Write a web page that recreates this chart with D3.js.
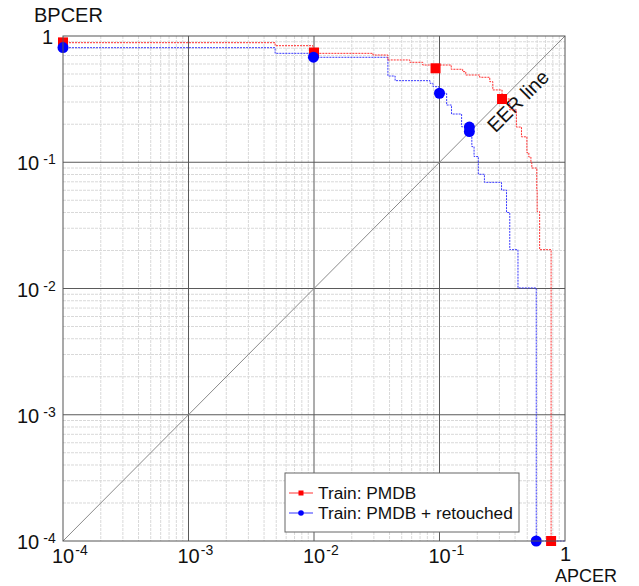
<!DOCTYPE html>
<html>
<head>
<meta charset="utf-8">
<script src="https://cdn.jsdelivr.net/npm/d3@7"></script>
<style>
  body { margin: 0; background: #fff; }
  text { font-family: "Liberation Sans", Arial, sans-serif; fill: #111; }
</style>
</head>
<body>
<div id="root"></div>
<script>
// DET curves (APCER, BPCER at each step)
const pmdbApcer  = [1e-4, 0.0049, 0.0098, 0.0295, 0.0388, 0.058, 0.0735, 0.124, 0.153, 0.162, 0.209, 0.2515, 0.266, 0.315, 0.363, 0.41, 0.45, 0.497, 0.515, 0.535, 0.544, 0.596, 0.60, 0.628, 0.775]
const pmdbBpcer  = [0.885, 0.838, 0.729, 0.707, 0.646, 0.619, 0.589, 0.545, 0.522, 0.491, 0.471, 0.435, 0.374, 0.317, 0.26, 0.19, 0.159, 0.119, 0.110, 0.099, 0.090, 0.060, 0.0406, 0.0203, 1e-4]
const retApcer   = [1e-4, 0.0049, 0.0098, 0.0388, 0.0443, 0.084, 0.0888, 0.099, 0.114, 0.1247, 0.150, 0.173, 0.181, 0.1885, 0.204, 0.228, 0.312, 0.342, 0.363, 0.422, 0.59, 1]
const retBpcer   = [0.808, 0.729, 0.678, 0.482, 0.443, 0.422, 0.397, 0.352, 0.284, 0.241, 0.191, 0.175, 0.133, 0.111, 0.0803, 0.0693, 0.0602, 0.040, 0.0203, 0.0101, 1e-4, 1e-4]

// marker positions
const pmdbMarkX = [1e-4, 0.01, 0.093, 0.315, 0.775]
const pmdbMarkY = [0.89, 0.74, 0.555, 0.317, 1e-4]
const retMarkX  = [1e-4, 0.0099, 0.1, 0.173, 0.173, 0.59]
const retMarkY  = [0.81, 0.68, 0.352, 0.19, 0.175, 1e-4]

const decades = [1e-4, 1e-3, 1e-2, 1e-1, 1]
const tickExp = ["-4", "-3", "-2", "-1", ""]
const legendNames = ["Train: PMDB", "Train: PMDB + retouched"]

const w = 639
const h = 586
const pL = 63, pR = 565, pT = 36, pB = 541

const x = d3.scaleLog().domain([1e-4, 1]).range([pL, pR])
const y = d3.scaleLog().domain([1e-4, 1]).range([pB, pT])

const svg = d3.select("#root").append("svg")
    .attr("width", w)
    .attr("height", h)

// minor grid
const minor = []
decades.slice(0, 4).forEach(d => {
    for (let k = 2; k <= 9; k++) minor.push(d * k)
})
svg.append("g").selectAll("line")
    .data(minor).enter().append("line")
    .attr("x1", d => x(d)).attr("x2", d => x(d))
    .attr("y1", pT).attr("y2", pB)
    .attr("stroke", "#d9d9d9").attr("stroke-dasharray", "3,1")
svg.append("g").selectAll("line")
    .data(minor).enter().append("line")
    .attr("y1", d => y(d)).attr("y2", d => y(d))
    .attr("x1", pL).attr("x2", pR)
    .attr("stroke", "#d9d9d9").attr("stroke-dasharray", "3,1")

// major grid
svg.append("g").selectAll("line")
    .data(decades.slice(1, 4)).enter().append("line")
    .attr("x1", d => x(d)).attr("x2", d => x(d))
    .attr("y1", pT).attr("y2", pB)
    .attr("stroke", "#5a5a5a")
svg.append("g").selectAll("line")
    .data(decades.slice(1, 4)).enter().append("line")
    .attr("y1", d => y(d)).attr("y2", d => y(d))
    .attr("x1", pL).attr("x2", pR)
    .attr("stroke", "#5a5a5a")

// EER line
svg.append("line")
    .attr("x1", x(1e-4)).attr("y1", y(1e-4))
    .attr("x2", x(1)).attr("y2", y(1))
    .attr("stroke", "#8a8a8a")

svg.append("text")
    .attr("transform", "translate(518, 101) rotate(-45)")
    .attr("text-anchor", "middle")
    .attr("dy", "0.35em")
    .style("font-size", "20px")
    .text("EER line")

// curves
const line = d3.line()
    .x(d => x(d[0]))
    .y(d => y(d[1]))
    .curve(d3.curveStepAfter)

svg.append("path")
    .datum(retApcer.map((v, i) => [v, retBpcer[i]]))
    .attr("d", line)
    .attr("fill", "none")
    .attr("stroke", "#3a3aff")
    .attr("stroke-dasharray", "2,1")

svg.append("path")
    .datum(pmdbApcer.map((v, i) => [v, pmdbBpcer[i]]))
    .attr("d", line)
    .attr("fill", "none")
    .attr("stroke", "#ff3030")
    .attr("stroke-dasharray", "2,1")

// markers
svg.append("g").selectAll("rect")
    .data(pmdbMarkX.map((v, i) => [v, pmdbMarkY[i]])).enter().append("rect")
    .attr("x", d => x(d[0]) - 5).attr("y", d => y(d[1]) - 5)
    .attr("width", 10).attr("height", 10)
    .attr("fill", "#ff0000")

svg.append("g").selectAll("circle")
    .data(retMarkX.map((v, i) => [v, retMarkY[i]])).enter().append("circle")
    .attr("cx", d => x(d[0])).attr("cy", d => y(d[1]))
    .attr("r", 5.5)
    .attr("fill", "#0000ff")

// frame
svg.append("rect")
    .attr("x", pL).attr("y", pT)
    .attr("width", pR - pL).attr("height", pB - pT)
    .attr("fill", "none").attr("stroke", "#555")

// tick labels
const xl = svg.append("g").selectAll("text")
    .data(decades).enter().append("text")
    .attr("x", (d, i) => tickExp[i] ? x(d) - 11 : x(d) - 5)
    .attr("y", (d, i) => tickExp[i] ? 563 : 561)
    .style("font-size", "20px")
xl.append("tspan").text((d, i) => tickExp[i] ? "10" : "1")
xl.append("tspan")
    .attr("dx", 1).attr("dy", -8)
    .style("font-size", "14px")
    .text((d, i) => tickExp[i])

const yl = svg.append("g").selectAll("text")
    .data(decades).enter().append("text")
    .attr("x", (d, i) => tickExp[i] ? 17 : 42)
    .attr("y", d => y(d) + 8)
    .style("font-size", "20px")
yl.append("tspan").text((d, i) => tickExp[i] ? "10" : "1")
yl.append("tspan")
    .attr("dx", 4).attr("dy", -6)
    .style("font-size", "14px")
    .text((d, i) => tickExp[i])

// axis titles
svg.append("text").attr("x", 34).attr("y", 22)
    .style("font-size", "20px").text("BPCER")
svg.append("text").attr("x", 555).attr("y", 582)
    .style("font-size", "18px").text("APCER")

// legend
const lg = svg.append("g")
lg.append("rect")
    .attr("x", 285).attr("y", 473)
    .attr("width", 234).attr("height", 59)
    .attr("fill", "#fff").attr("stroke", "#666")
const colors = ["#ff0000", "#0000ff"]
legendNames.forEach((name, i) => {
    const ly = 493 + i * 20
    lg.append("line")
        .attr("x1", 289).attr("x2", 313)
        .attr("y1", ly).attr("y2", ly)
        .attr("stroke", colors[i]).attr("stroke-opacity", 0.8)
    if (i === 0) {
        lg.append("rect").attr("x", 298.5).attr("y", ly - 2.5)
            .attr("width", 5).attr("height", 5).attr("fill", colors[i])
    } else {
        lg.append("circle").attr("cx", 301).attr("cy", ly)
            .attr("r", 2.8).attr("fill", colors[i])
    }
    lg.append("text")
        .attr("x", 318).attr("y", ly + 6)
        .style("font-size", "17.3px")
        .text(name)
})
</script>
</body>
</html>
